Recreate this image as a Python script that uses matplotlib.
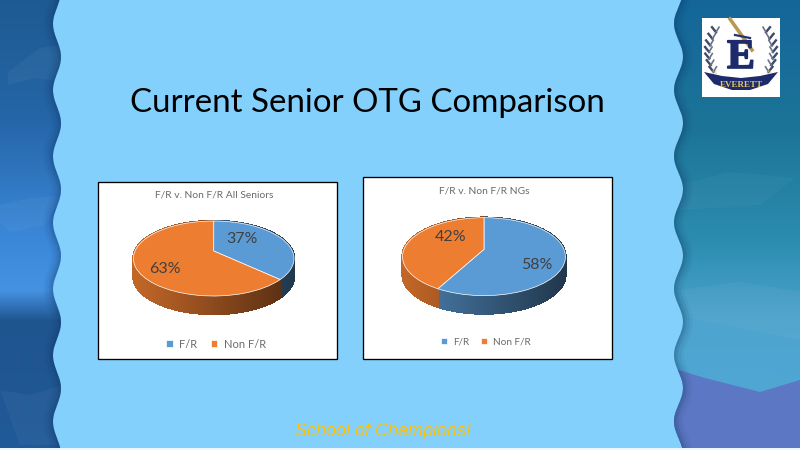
import numpy as np
import matplotlib
matplotlib.use('Agg')
import matplotlib.pyplot as plt
import matplotlib.patheffects as pe
from matplotlib.collections import PolyCollection
from matplotlib.colors import to_rgb
from matplotlib.patches import PathPatch, Rectangle
from matplotlib.path import Path
from matplotlib.transforms import Transform

# chart values
categories = ['F/R', 'Non F/R']
seniors_values = [37, 63]
ng_values = [58, 42]
seniors_title = 'F/R v. Non F/R All Seniors'
ng_title = 'F/R v. Non F/R NGs'
slide_title = 'Current Senior OTG Comparison'
footer = 'School of Champions!'

BLUE = '#5B9BD5'
ORANGE = '#ED7D31'
SKY = '#83D0FD'
plt.rcParams['font.family'] = ['Lato', 'DejaVu Sans']


class TiltedPie(Transform):
    # unit circle -> perspective ellipse, in slide pixels
    input_dims = 2
    output_dims = 2

    def __init__(self, cx, cy, a, b, k):
        super().__init__()
        self.cx, self.cy, self.a, self.b, self.k = cx, cy, a, b, k

    def transform_non_affine(self, values):
        values = np.asarray(values, dtype=float)
        w = 1 + self.k * values[:, 1]
        return np.column_stack([self.cx + self.b * values[:, 0] / w,
                                self.cy - self.a * values[:, 1] / w])


fig = plt.figure(figsize=(8, 4.5), dpi=100, facecolor=SKY)
ax = fig.add_axes([0, 0, 1, 1])


def limits():
    ax.set_aspect('auto')
    ax.set_xlim(0, 800)
    ax.set_ylim(450, 0)
    ax.set_axis_off()


def wavy_edge(ys, x_lo, x_hi, peak):
    return (x_lo + x_hi) / 2 + (x_hi - x_lo) / 2 * np.cos(2 * np.pi * (ys - peak) / 66.3)


def side_panel(x_outer, x_extent, edge_x, ys, stops, zorder=1):
    # vertical gradient clipped to a wavy edge, then the soft shadow on that edge
    pos, cols = zip(*stops)
    cols = np.array([to_rgb(c) for c in cols])
    yy = np.arange(0, 448)
    grad = np.stack([np.interp(yy, pos, cols[:, i]) for i in range(3)], axis=1)[:, None, :]
    verts = np.vstack([np.column_stack([edge_x, ys]), [[x_outer, ys[-1]], [x_outer, ys[0]]]])
    clip = PathPatch(Path(verts, closed=False), transform=ax.transData, fc='none', ec='none')
    ax.add_patch(clip)
    im = ax.imshow(grad, extent=(*x_extent, 448, 0), aspect='auto', zorder=zorder, interpolation='bilinear')
    im.set_clip_path(clip)
    for lw, alpha in [(14, 0.05), (10, 0.07), (6, 0.1), (3, 0.12)]:
        ln, = ax.plot(edge_x, ys, color='#10305f', lw=lw, alpha=alpha, zorder=zorder + 0.1)
        ln.set_clip_path(clip)
    return clip


def blob(clip, xs, ys, color='white', alpha=0.04, zorder=1.05):
    p, = ax.fill(xs, ys, color=color, alpha=alpha, lw=0, zorder=zorder)
    p.set_clip_path(clip)


def draw_pie(values, title, panel, centre, a, b, k, label_xy, title_xy, legend_xy, legend_size):
    x0, y0, x1, y1 = panel
    ax.add_patch(Rectangle((x0, y0), x1 - x0, y1 - y0, fc='white', ec='black', lw=0.95, zorder=2))
    tf = TiltedPie(centre[0], centre[1], a, b, k)
    wedges, _ = ax.pie(values, colors=[BLUE, ORANGE], startangle=90, counterclock=False,
                       wedgeprops={'edgecolor': 'white', 'linewidth': 0.5, 'zorder': 4})
    for w in wedges:
        w.set_transform(tf + ax.transData)
    limits()

    # side wall, shaded from left to right
    depth = 18
    edges = np.cumsum([0] + list(values)) / sum(values) * 2 * np.pi
    for i, col in enumerate([BLUE, ORANGE]):
        th = np.linspace(edges[i], edges[i + 1], 160)
        pts = tf.transform_non_affine(np.column_stack([np.sin(th), np.cos(th)]))
        polys, faces = [], []
        for p, q in zip(pts[:-1], pts[1:]):
            polys.append([p, q, q + [0, depth], p + [0, depth]])
            t = (p[0] - (centre[0] - b)) / (2 * b)
            faces.append(np.array(to_rgb(col)) * (0.82 - 0.46 * np.clip(t, 0, 1)))
        ax.add_collection(PolyCollection(polys, facecolors=faces, edgecolors=faces, linewidths=1.0,
                                         antialiaseds=False, zorder=3))

    for v, xy in zip(values, label_xy):
        ax.text(xy[0], xy[1], f'{v}%', ha='center', va='center', fontsize=11.5, color='#404040', zorder=5)
    ax.text(title_xy[0], title_xy[1], title, ha='center', va='center', fontsize=7.4, color='#6A6A6A', zorder=5)
    leg = ax.legend(wedges, categories, loc='center', bbox_to_anchor=legend_xy, bbox_transform=ax.transData,
                    ncol=2, frameon=False, fontsize=legend_size, labelcolor='#6A6A6A', handlelength=0.6,
                    handleheight=0.6, columnspacing=1.2, handletextpad=0.6)
    leg.set_zorder(5)
    ax.legend_ = None
    ax.add_artist(leg)


limits()

# side bands
ys = np.linspace(0, 448, 500)
left_clip = side_panel(0, (0, 62), wavy_edge(ys, 53, 61, 57), ys,
                       [(0, '#1E5A92'), (120, '#2566A8'), (230, '#3A86D6'), (290, '#4592E2'),
                        (320, '#1F558F'), (448, '#1F5A98')])
right_clip = side_panel(800, (672, 800), wavy_edge(ys, 674, 683, 123), ys,
                        [(0, '#14669A'), (130, '#1C7598'), (240, '#2C8CB0'), (320, '#4DA4CE'),
                         (375, '#4FA6D2'), (400, '#4FA6D2'), (448, '#4F6FB8')])
blob(left_clip, [0, 30, 62, 45, 10, 0], [205, 198, 196, 225, 232, 222])
blob(left_clip, [8, 40, 62, 62, 35, 8], [72, 48, 45, 82, 78, 85])
blob(left_clip, [0, 30, 62, 62, 20], [390, 395, 385, 445, 445])
blob(right_clip, [672, 705, 760, 800, 800, 672], [368, 378, 392, 380, 448, 448], color='#5C78C4', alpha=1, zorder=1.02)
blob(right_clip, [680, 740, 800, 800, 690], [290, 282, 292, 340, 318])
blob(right_clip, [680, 730, 795, 760, 680], [185, 172, 178, 205, 210], alpha=0.03)

# white sliver at the very bottom
ax.add_patch(Rectangle((0, 447.5), 800, 3, fc='#EEF7FD', ec='none', zorder=1.5))

ax.text(367.5, 103, slide_title, ha='center', va='center', fontsize=23.8, color='black', zorder=5)
ax.text(383, 432, footer, ha='center', va='center', fontsize=13, style='italic', family='Liberation Sans',
        color='#FFC000', zorder=5)

draw_pie(seniors_values, seniors_title, (97.5, 181.5, 337, 358.5), (213.7, 251), 36, 78.7, 0.2,
         [(242, 239), (164.7, 268.7)], (214, 195), (216, 344), 8)
draw_pie(ng_values, ng_title, (362.5, 176.5, 611.5, 358.5), (484, 249.3), 37.6, 80, 0.188,
         [(537, 264.7), (451, 237)], (484, 191), (486, 342), 7.2)

# school crest
ax.add_patch(Rectangle((702, 18), 78, 79, fc='white', ec='none', zorder=3))
for side in (-1, 1):
    for t in np.linspace(0.05, 0.95, 7):
        bx = 741 + side * (32 - 28 * (t - 0.45) ** 2)
        by = 74 - 44 * t
        ax.plot([bx, bx + side * 4], [by, by - 5], color='#3E4A6B', lw=1.7, zorder=4)
        ax.plot([bx, bx - side * 3], [by, by - 5], color='#6C7388', lw=1.2, zorder=4)
ax.plot([730, 752], [19, 50], color='#B89A52', lw=2.6, zorder=4)
ax.plot([735, 750], [35, 38], color='#27316B', lw=1.6, zorder=6)
ax.text(741, 58, 'E', ha='center', va='center', fontsize=30, weight='bold', family='Liberation Serif',
        color='#1D2A6B', zorder=5, path_effects=[pe.withStroke(linewidth=1.2, foreground='#1D2A6B')])
ax.fill([704, 722, 741, 760, 778, 768, 750, 732, 714], [72, 76, 78, 76, 72, 84, 90, 90, 84],
        color='#1D2A6B', lw=0, zorder=5)
ax.text(741, 85, 'EVERETT', ha='center', va='center', fontsize=6.5, weight='bold', family='Liberation Serif',
        color='#E8C45A', zorder=6)
ax.text(714, 73, 'H', ha='center', va='center', fontsize=5, family='Liberation Serif', color='#E8C45A', zorder=6)
ax.text(768, 73, 'S', ha='center', va='center', fontsize=5, family='Liberation Serif', color='#E8C45A', zorder=6)

limits()
fig.savefig('out.png', dpi=100, facecolor=SKY)
